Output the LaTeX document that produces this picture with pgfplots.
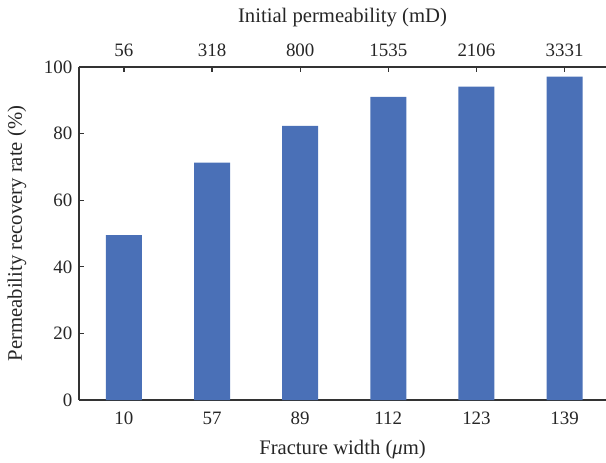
\documentclass[border=0pt]{standalone}
\usepackage{fontspec}
\setmainfont{Liberation Serif}
\usepackage{pgfplots}
\pgfplotsset{compat=1.18}
\usetikzlibrary{calc}
\definecolor{barblue}{HTML}{4A70B7}
\definecolor{axisgray}{HTML}{333333}

\pgfplotsset{
  common/.style={
    scale only axis,
    width=395.25pt, height=249.75pt,
    xmin=-0.51, xmax=5.47, ymin=0, ymax=100,
    xtick={0,...,5},
    major tick length=3.75pt,
    tick align=inside,
    axis line style={axisgray, line width=0.9pt},
    tick style={axisgray, line width=0.9pt},
    /pgf/number format/assume math mode=true,
    tick label style={font=\fontsize{14.2}{16}\selectfont, text=black!85},
    label style={font=\fontsize{15.5}{18}\selectfont, text=black!85},
  }
}

\begin{document}
\begin{tikzpicture}
\begin{axis}[
  common,
  name=main,
  axis x line*=bottom,
  axis y line*=left,
  ytick={0,20,...,100},
  xticklabels={10,57,89,112,123,139},
  xticklabel style={anchor=center, yshift=-13.5pt},
  yticklabel style={xshift=-1.5pt},
  xlabel={Fracture width (\textit{μ}m)},
  xlabel style={at={(axis description cs:0.5,-0.150)}, anchor=center},
  ylabel={Permeability recovery rate (\%)},
  ylabel style={at={(axis description cs:-0.1176,0.5)}, anchor=center},
]
\addplot[ybar, bar width=27pt, fill=barblue, draw=none]
  coordinates {(0,49.5) (1,71.3) (2,82.3) (3,91.0) (4,94.1) (5,97.1)};
\end{axis}
\begin{axis}[
  common,
  axis x line*=top,
  axis y line=none,
  xticklabels={56,318,800,1535,2106,3331},
  xticklabel style={anchor=center, yshift=12.75pt},
  xlabel={Initial permeability (mD)},
  xlabel style={at={(axis description cs:0.5,1.147)}, anchor=center},
]
\end{axis}
\pgfresetboundingbox
\path ($(main.south west)+(-59.25pt,-46.5pt)$) rectangle ($(main.north east)+(0pt,50.25pt)$);
\end{tikzpicture}
\end{document}
